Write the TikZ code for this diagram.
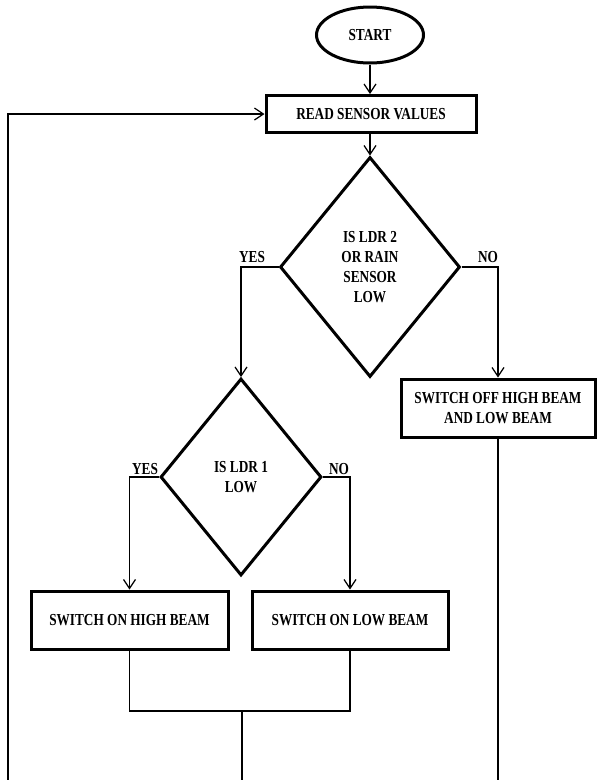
\documentclass[tikz,border=0pt]{standalone}
\usepackage{fontspec}
\setmainfont{Liberation Serif}[FakeStretch=0.79]
\usetikzlibrary{shapes.geometric,arrows.meta}
\begin{document}
\begin{tikzpicture}[x=1pt,y=-1pt,
  every node/.style={font=\bfseries\fontsize{16.8}{20}\selectfont, inner sep=0pt},
  box/.style={draw, line width=3pt, rectangle, align=center},
  dec/.style={draw, line width=3pt, diamond, align=center},
  term/.style={draw, line width=3pt, ellipse},
  lbl/.style={},
  conn/.style={line width=1.2pt, -{Straight Barb[length=9pt,width=12pt,line width=1.2pt]}},
  wire/.style={line width=1.2pt}
]
\fill[white] (0,0) rectangle (597,780);
\useasboundingbox (0,0) rectangle (597,780);

\node[term, minimum width=107, minimum height=56] (start) at (370,35) {START};
\node[box, minimum width=210, minimum height=37] (read) at (371,114) {READ SENSOR VALUES};
\node[dec, minimum width=180, minimum height=220] (d1) at (370,267) {IS LDR 2\\OR RAIN\\SENSOR\\LOW};
\node[box, minimum width=194, minimum height=58] (off) at (498,408) {SWITCH OFF HIGH BEAM\\AND LOW BEAM};
\node[dec, minimum width=161, minimum height=197] (d2) at (241,477) {IS LDR 1\\LOW};
\node[box, minimum width=197, minimum height=58] (high) at (129.5,620) {SWITCH ON HIGH BEAM};
\node[box, minimum width=196, minimum height=58] (low) at (350,620) {SWITCH ON LOW BEAM};

\node[lbl] (yes1) at (252,257) {YES};
\node[lbl] (no1) at (488,257) {NO};
\node[lbl] (yes2) at (145,469) {YES};
\node[lbl] (no2) at (339,469) {NO};

\coordinate (junc) at (242,711);
\coordinate (juncend) at (242,780);
\coordinate (rightend) at (498,780);
\coordinate (leftend) at (8,780);

\draw[conn] (start.south) -- (start.south |- read.north);
\draw[conn] (read.south -| d1.north) -- (d1.north);
\draw[conn] (d1.west) -| (d2.north);
\draw[conn] (d1.east) -| (off.north);
\draw[conn] (d2.west) -| (high.north);
\draw[conn] (d2.east) -| (low.north);
\draw[wire] (high.south) |- (junc) -| (low.south);
\draw[wire] (junc) -- (juncend);
\draw[wire] (off.south) -- (rightend);
\draw[conn] (leftend) |- (read.west);
\end{tikzpicture}
\end{document}
